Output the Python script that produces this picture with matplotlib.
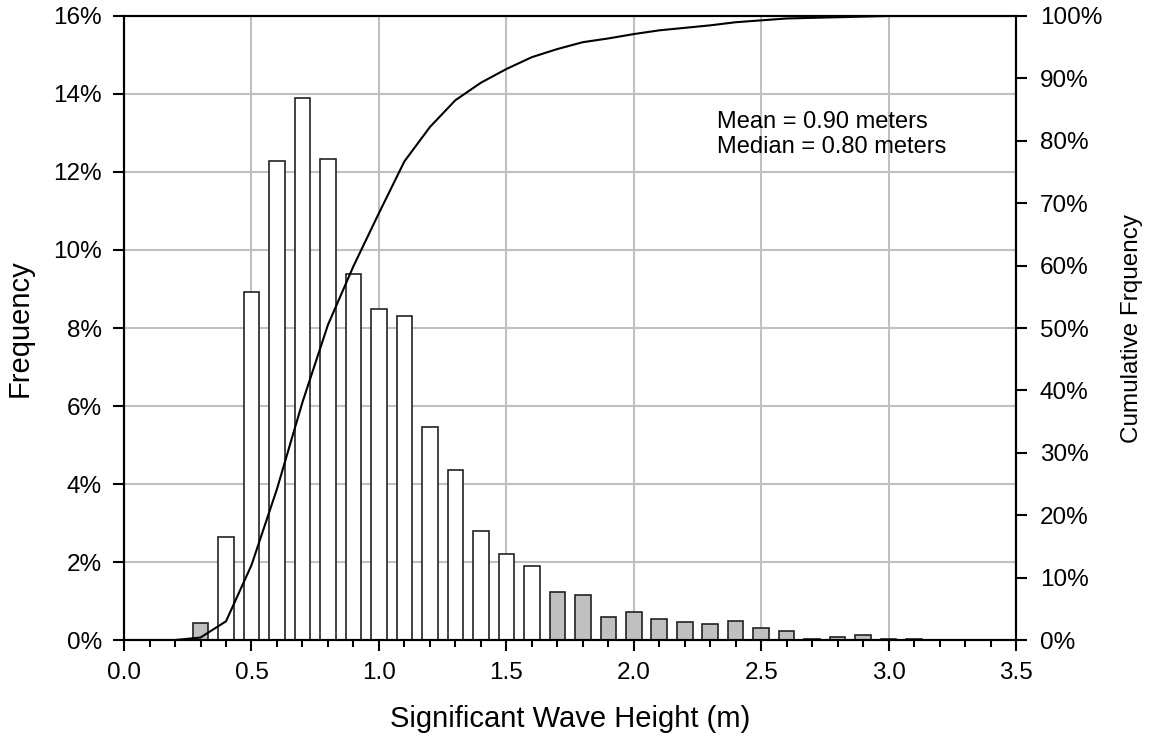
import numpy as np
import matplotlib
matplotlib.use('Agg')
import matplotlib.pyplot as plt
from matplotlib.ticker import MultipleLocator, FuncFormatter

plt.rcParams['font.family'] = ['Liberation Sans', 'DejaVu Sans']

# wave height bins (m) and frequency (%)
hs = [0.3, 0.4, 0.5, 0.6, 0.7, 0.8, 0.9, 1.0, 1.1, 1.2, 1.3, 1.4, 1.5, 1.6,
      1.7, 1.8, 1.9, 2.0, 2.1, 2.2, 2.3, 2.4, 2.5, 2.6, 2.7, 2.8, 2.9, 3.0, 3.1]
freq = [0.44, 2.65, 8.93, 12.27, 13.90, 12.33, 9.39, 8.50, 8.32, 5.47, 4.35, 2.80, 2.21, 1.91,
        1.24, 1.16, 0.60, 0.71, 0.53, 0.47, 0.40, 0.50, 0.30, 0.24, 0.03, 0.07, 0.14, 0.03, 0.03]
# bars drawn grey (tails)
grey_bins = [0.3, 1.7, 1.8, 1.9, 2.0, 2.1, 2.2, 2.3, 2.4, 2.5, 2.6, 2.7, 2.8, 2.9, 3.0, 3.1]

# cumulative curve (%)
cum_x = [0.0, 0.1, 0.2, 0.3, 0.4, 0.5, 0.6, 0.7, 0.8, 0.9, 1.0, 1.1, 1.2, 1.3, 1.4, 1.5, 1.6, 1.7,
         1.8, 1.9, 2.0, 2.1, 2.2, 2.3, 2.4, 2.5, 2.6, 2.7, 2.8, 2.9, 3.0, 3.1, 3.2, 3.3, 3.4, 3.5]
cum = [0.0, 0.0, 0.0, 0.4, 3.0, 12.0, 24.2, 38.1, 50.5, 59.9, 68.4, 76.7, 82.2, 86.5, 89.3, 91.5, 93.4, 94.7,
       95.8, 96.4, 97.1, 97.7, 98.1, 98.5, 99.0, 99.3, 99.6, 99.7, 99.8, 99.9, 100.0, 100.0, 100.0, 100.0, 100.0, 100.0]

fig = plt.figure(figsize=(11.55, 7.40), dpi=100)
ax = fig.add_axes([0.1074, 0.1351, 0.7723, 0.8433])

colors = ['#c0c0c0' if h in grey_bins else 'white' for h in hs]
ax.bar(hs, freq, width=0.061, color=colors, edgecolor='#222222', linewidth=1.2, zorder=2)

ax.set_xlim(0, 3.5)
ax.set_ylim(0, 16)
ax.xaxis.set_major_locator(MultipleLocator(0.5))
ax.xaxis.set_minor_locator(MultipleLocator(0.1))
ax.yaxis.set_major_locator(MultipleLocator(2))
ax.xaxis.set_major_formatter(FuncFormatter(lambda v, p: '%.1f' % v))
ax.yaxis.set_major_formatter(FuncFormatter(lambda v, p: '%d%%' % v))
ax.grid(True, color='#c0c0c0', linewidth=1.5, zorder=0)
ax.set_axisbelow(True)
ax.tick_params(axis='both', which='major', labelsize=17.5, length=8, width=1.5, direction='out', pad=8)
ax.tick_params(axis='x', which='minor', length=5, width=1.5, direction='out')
for s in ax.spines.values():
    s.set_linewidth(1.5)
ax.set_xlabel('Significant Wave Height (m)', fontsize=21, labelpad=15)
ax.set_ylabel('Frequency', fontsize=21, labelpad=14)

ax2 = ax.twinx()
ax2.plot(cum_x, cum, color='black', linewidth=1.5, zorder=3)
ax2.set_ylim(0, 100)
ax2.yaxis.set_major_locator(MultipleLocator(10))
ax2.yaxis.set_major_formatter(FuncFormatter(lambda v, p: '%d%%' % v))
ax2.tick_params(axis='y', labelsize=17.5, length=8, width=1.5, direction='out', pad=9)
for s in ax2.spines.values():
    s.set_linewidth(1.5)
ax2.set_ylabel('Cumulative Frquency', fontsize=17.5, labelpad=14)

ax.text(0.665, 0.847, 'Mean = 0.90 meters\nMedian = 0.80 meters', transform=ax.transAxes,
        fontsize=17, va='top', ha='left', linespacing=1.15)

fig.savefig('out.png', dpi=100)
